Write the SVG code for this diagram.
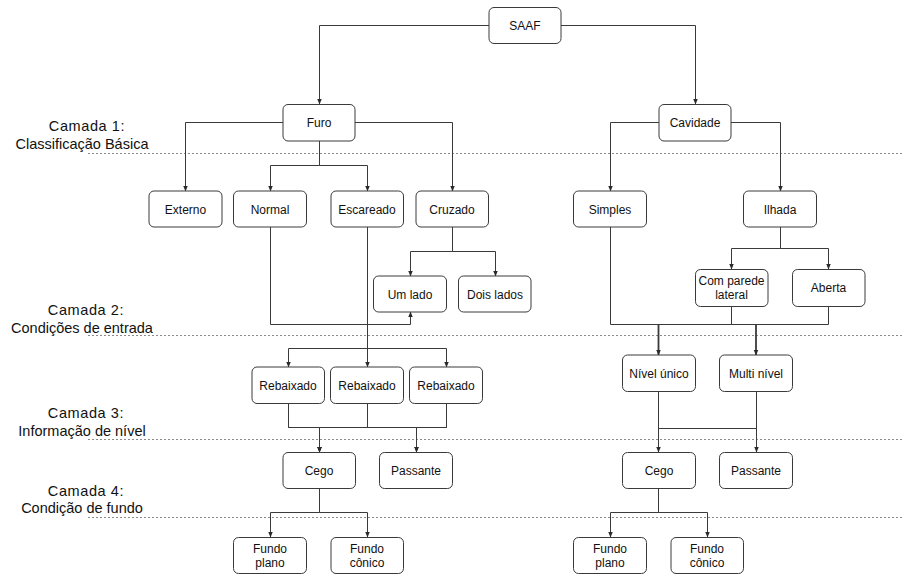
<svg xmlns="http://www.w3.org/2000/svg" width="903" height="574" viewBox="0 0 903 574">
  <style>
    .node rect { fill: #ffffff; stroke: #3a3a3a; stroke-width: 1; }
    .node text { font-family: "Liberation Sans", Arial, sans-serif; font-size: 12px; fill: #111111; text-anchor: middle; }
    .layer { font-family: "Liberation Sans", Arial, sans-serif; font-size: 14.5px; fill: #111111; text-anchor: middle; }
    .sep { stroke: #8a8a8a; stroke-width: 1; stroke-dasharray: 2 2; fill: none; }
    .edges path { fill: none; stroke: #3a3a3a; stroke-width: 1; }
    .edges path.arr { marker-end: url(#ah); }
    .edges path.bold { stroke-width: 1.8; }
  </style>
  <defs>
    <marker id="ah" viewBox="0 0 10 10" refX="9" refY="5" markerWidth="6" markerHeight="6" markerUnits="userSpaceOnUse" orient="auto">
      <path d="M0,1 L10,5 L0,9 Z" fill="#2a2a2a"/>
    </marker>
  </defs>
  <rect width="903" height="574" fill="#ffffff"/>

  <!-- layer separators -->
  <g id="separators">
    <line class="sep" x1="88" y1="153.5" x2="903" y2="153.5"/>
    <line class="sep" x1="88" y1="335.5" x2="903" y2="335.5"/>
    <line class="sep" x1="88" y1="439.5" x2="903" y2="439.5"/>
    <line class="sep" x1="88" y1="517.5" x2="903" y2="517.5"/>
  </g>

  <!-- layer captions -->
  <g id="layer-labels">
    <text class="layer" x="87" y="131" letter-spacing="0.6">Camada 1:</text>
    <text class="layer" x="82" y="148.5">Classificação Básica</text>
    <text class="layer" x="86" y="315" letter-spacing="0.6">Camada 2:</text>
    <text class="layer" x="82" y="332.5">Condições de entrada</text>
    <text class="layer" x="86" y="418" letter-spacing="0.6">Camada 3:</text>
    <text class="layer" x="82" y="435.5">Informação de nível</text>
    <text class="layer" x="86" y="496" letter-spacing="0.6">Camada 4:</text>
    <text class="layer" x="82" y="513">Condição de fundo</text>
  </g>

  <!-- connectors -->
  <g id="connectors" class="edges">
    <path class="arr" d="M489,25.5 H319.5 V104"/>
    <path class="arr" d="M561,25.5 H695.5 V104"/>

    <path class="arr" d="M283,122.5 H185.5 V191"/>
    <path class="arr" d="M319.5,141 V165.5 H270.5 V191"/>
    <path class="arr" d="M319.5,141 V165.5 H367.5 V191"/>
    <path class="arr" d="M355,122.5 H452.5 V191"/>

    <path class="arr" d="M659,122.5 H610.5 V191"/>
    <path class="arr" d="M731,122.5 H780.5 V191"/>

    <path class="arr" d="M452.5,227 V251.5 H410.5 V276"/>
    <path class="arr" d="M452.5,227 V251.5 H495.5 V276"/>
    <path class="arr" d="M270.5,227 V324.5 H410.5 V312"/>

    <path class="arr" d="M367.5,227 V348.5 H288.5 V367"/>
    <path class="arr" d="M367.5,227 V367"/>
    <path class="arr" d="M367.5,227 V348.5 H446.5 V367"/>

    <path class="arr" d="M288.5,403 V427.5 H319.5 V452"/>
    <path class="arr" d="M367.5,403 V427.5 H319.5 V452"/>
    <path class="arr" d="M446.5,403 V427.5 H319.5 V452"/>
    <path class="arr" d="M288.5,403 V427.5 H416.5 V452"/>
    <path class="arr" d="M446.5,403 V427.5 H416.5 V452"/>

    <path class="arr" d="M319.5,488 V512.5 H270.5 V537"/>
    <path class="arr" d="M319.5,488 V512.5 H367.5 V537"/>

    <path class="arr" d="M780.5,227 V248.5 H731.5 V269"/>
    <path class="arr" d="M780.5,227 V248.5 H828.5 V269"/>

    <path d="M610.5,227 V324.5 H828.5 V306"/>
    <path d="M731.5,306 V324.5"/>
    <path class="arr bold" d="M658.5,324.5 V355"/>
    <path class="arr bold" d="M756,324.5 V355"/>

    <path class="arr" d="M658.5,391 V452"/>
    <path class="arr" d="M756.5,391 V452"/>
    <path d="M658.5,428.5 H756.5"/>

    <path class="arr" d="M658.5,488 V512.5 H610.5 V537"/>
    <path class="arr" d="M658.5,488 V512.5 H707.5 V537"/>
  </g>

  <!-- nodes -->
  <g id="saaf" class="node"><rect x="489" y="7.5" width="72" height="36" rx="5"/><text x="525" y="29.5">SAAF</text></g>
  <g id="furo" class="node"><rect x="283" y="104.5" width="72" height="36.5" rx="5"/><text x="319" y="127">Furo</text></g>
  <g id="cavidade" class="node"><rect x="659" y="104.5" width="72" height="36.5" rx="5"/><text x="695" y="127">Cavidade</text></g>

  <g id="externo" class="node"><rect x="149" y="191" width="73" height="36" rx="5"/><text x="185.5" y="213.5">Externo</text></g>
  <g id="normal" class="node"><rect x="233.5" y="191" width="73" height="36" rx="5"/><text x="270" y="213.5">Normal</text></g>
  <g id="escareado" class="node"><rect x="331" y="191" width="72.5" height="36" rx="5"/><text x="367" y="213.5">Escareado</text></g>
  <g id="cruzado" class="node"><rect x="416" y="191" width="72.5" height="36" rx="5"/><text x="452" y="213.5">Cruzado</text></g>
  <g id="simples" class="node"><rect x="573.5" y="191" width="73" height="36" rx="5"/><text x="610" y="213.5">Simples</text></g>
  <g id="ilhada" class="node"><rect x="743.5" y="191" width="73" height="36" rx="5"/><text x="780" y="213.5">Ilhada</text></g>

  <g id="um-lado" class="node"><rect x="373.5" y="276" width="73" height="36" rx="5"/><text x="410" y="298.5">Um lado</text></g>
  <g id="dois-lados" class="node"><rect x="458.5" y="276" width="72.5" height="36" rx="5"/><text x="495" y="298.5">Dois lados</text></g>
  <g id="com-parede" class="node"><rect x="695.5" y="269.5" width="72.5" height="37" rx="5"/><text x="731.5" y="285">Com parede</text><text x="731.5" y="299">lateral</text></g>
  <g id="aberta" class="node"><rect x="792.5" y="269.5" width="72.5" height="37" rx="5"/><text x="828.5" y="292">Aberta</text></g>

  <g id="rebaixado-1" class="node"><rect x="252" y="367" width="72.5" height="36.5" rx="5"/><text x="288" y="389.5">Rebaixado</text></g>
  <g id="rebaixado-2" class="node"><rect x="330.5" y="367" width="73" height="36.5" rx="5"/><text x="367" y="389.5">Rebaixado</text></g>
  <g id="rebaixado-3" class="node"><rect x="409.5" y="367" width="73" height="36.5" rx="5"/><text x="446" y="389.5">Rebaixado</text></g>
  <g id="nivel-unico" class="node"><rect x="622.5" y="355" width="73" height="36.5" rx="5"/><text x="659" y="377.5">Nível único</text></g>
  <g id="multi-nivel" class="node"><rect x="719.5" y="355" width="73" height="36.5" rx="5"/><text x="756" y="377.5">Multi nível</text></g>

  <g id="cego-furo" class="node"><rect x="283" y="452.5" width="72.5" height="36" rx="5"/><text x="319" y="474.5">Cego</text></g>
  <g id="passante-furo" class="node"><rect x="379.5" y="452.5" width="73" height="36" rx="5"/><text x="416" y="474.5">Passante</text></g>
  <g id="cego-cavidade" class="node"><rect x="622.5" y="452.5" width="73" height="36" rx="5"/><text x="659" y="474.5">Cego</text></g>
  <g id="passante-cavidade" class="node"><rect x="719.5" y="452.5" width="73" height="36" rx="5"/><text x="756" y="474.5">Passante</text></g>

  <g id="fundo-plano-furo" class="node"><rect x="233.5" y="537.5" width="73" height="36" rx="5"/><text x="270" y="552.5">Fundo</text><text x="270" y="566.5">plano</text></g>
  <g id="fundo-conico-furo" class="node"><rect x="331" y="537.5" width="72.5" height="36" rx="5"/><text x="367" y="552.5">Fundo</text><text x="367" y="566.5">cônico</text></g>
  <g id="fundo-plano-cavidade" class="node"><rect x="573.5" y="537.5" width="73" height="36" rx="5"/><text x="610" y="552.5">Fundo</text><text x="610" y="566.5">plano</text></g>
  <g id="fundo-conico-cavidade" class="node"><rect x="671" y="537.5" width="72.5" height="36" rx="5"/><text x="707" y="552.5">Fundo</text><text x="707" y="566.5">cônico</text></g>
</svg>
